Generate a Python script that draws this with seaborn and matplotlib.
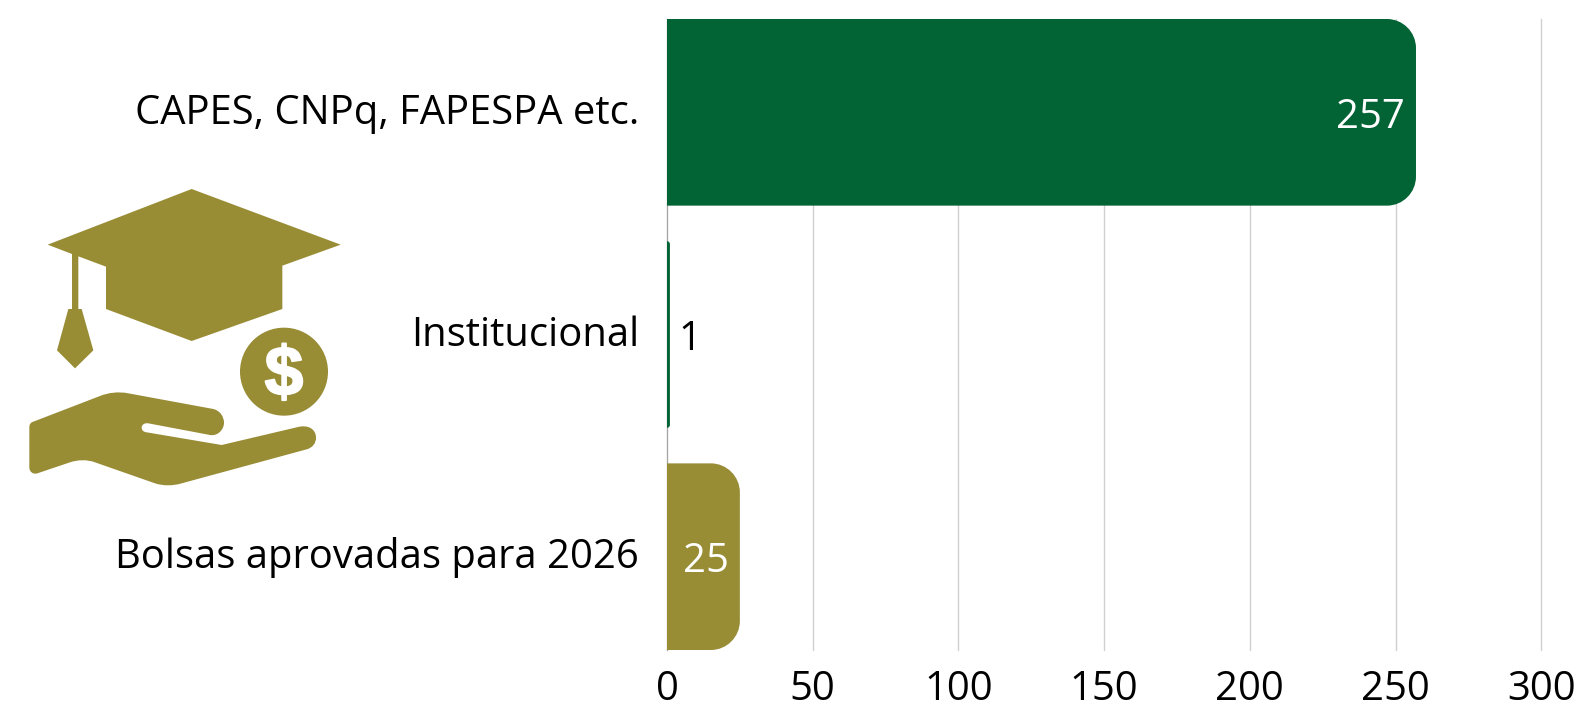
import matplotlib
matplotlib.use("Agg")
import matplotlib.pyplot as plt
import matplotlib.patheffects as pe
import pandas as pd
import seaborn as sns
from matplotlib.patches import Circle, PathPatch, Polygon
from matplotlib.path import Path
from matplotlib.transforms import IdentityTransform, ScaledTranslation

categories = ["CAPES, CNPq, FAPESPA etc.", "Institucional", "Bolsas aprovadas para 2026"]
values = [257, 1, 25]
bar_colors = ["#026334", "#026334", "#988C35"]
label_colors = ["white", "#000000", "white"]
xticks = [0, 50, 100, 150, 200, 250, 300]

GOLD = "#988C35"
W, H = 1579, 707
FS = 28.8

sns.set_theme(style="white")
plt.rcParams["font.family"] = ["Open Sans", "DejaVu Sans"]

df = pd.DataFrame({"categoria": categories, "bolsas": values})

fig = plt.figure(figsize=(W / 100, H / 100), dpi=100)
ax = fig.add_axes([667 / W, 1 - 650 / H, (1541.3 - 667) / W, (650 - 19) / H])

sns.barplot(data=df, x="bolsas", y="categoria", hue="categoria", palette=bar_colors,
            width=0.84, legend=False, saturation=1, ax=ax)

ax.set_xlim(0, 300)
ax.set_ylim(2.42, -0.42)
ax.set_xticks(xticks)
ax.set_xlabel("")
ax.set_ylabel("")
ax.grid(axis="x", color="#d0d0d0", lw=1.0)
ax.set_axisbelow(True)
for line in ax.get_xgridlines():
    line.set_clip_on(False)
sns.despine(ax=ax, top=True, right=True, bottom=True, left=False)
ax.spines["left"].set_color("#a6a6a6")
ax.spines["left"].set_linewidth(0.8)
ax.tick_params(axis="x", length=0, pad=14, labelsize=FS, labelcolor="#000000")
ax.tick_params(axis="y", length=0, pad=20, labelsize=FS, labelcolor="#000000")

# category labels sit a little above the bar centres
lift = ScaledTranslation(0, 4 / 100, fig.dpi_scale_trans)
for lab in ax.get_yticklabels():
    lab.set_transform(lab.get_transform() + lift)


def rounded_bar(x0, x1, y0, y1, r):
    # only the right side of the bar gets rounded
    r = min(r, x1 - x0)
    k = 0.55 * r
    verts = [(x0, y0), (x1 - r, y0), (x1 - r + k, y0), (x1, y0 + r - k), (x1, y0 + r),
             (x1, y1 - r), (x1, y1 - r + k), (x1 - r + k, y1), (x1 - r, y1),
             (x0, y1), (x0, y0)]
    codes = [Path.MOVETO, Path.LINETO, Path.CURVE4, Path.CURVE4, Path.CURVE4,
             Path.LINETO, Path.CURVE4, Path.CURVE4, Path.CURVE4,
             Path.LINETO, Path.CLOSEPOLY]
    return Path(verts, codes)


# swap seaborn's square bars for rounded ones, in pixels so the radius stays round
fig.canvas.draw()
bars = [p for p in ax.patches if p.get_width() > 0]
bars = sorted(bars, key=lambda p: p.get_y())
for bar, color in zip(bars, bar_colors):
    (x0, y0), (x1, y1) = ax.transData.transform(
        [(bar.get_x(), bar.get_y()), (bar.get_x() + bar.get_width(), bar.get_y() + bar.get_height())])
    y0, y1 = min(y0, y1), max(y0, y1)
    bar.set_visible(False)
    ax.add_artist(PathPatch(rounded_bar(x0, x1, y0, y1, 29), facecolor=color, edgecolor="none",
                            transform=IdentityTransform(), zorder=3, clip_on=False))

# value labels
for i, (val, col) in enumerate(zip(values, label_colors)):
    if val > 20:
        ax.annotate(str(val), (val, i), xytext=(-8, 0), textcoords="offset points", ha="right",
                    va="center_baseline", fontsize=FS, color=col, zorder=5)
    else:
        ax.annotate(str(val), (val, i), xytext=(6, 0), textcoords="offset points", ha="left",
                    va="center_baseline", fontsize=FS, color=col, zorder=5)

# icon, drawn in pixels of the zoomed crop (3x, origin at 0,170)
icon = fig.add_axes([0, 0, 1, 1], zorder=6)
icon.set_xlim(0, W * 3)
icon.set_ylim((H - 170) * 3, -170 * 3)
icon.axis("off")
icon.patch.set_alpha(0)

cap = [(143, 224), (575, 57), (1022, 224), (847, 287), (847, 417), (575, 513), (318, 417),
       (318, 290), (235, 259), (235, 417), (245, 417), (280, 541), (225, 595), (171, 541),
       (205, 417), (216, 417), (216, 252)]
icon.add_patch(Polygon(cap, closed=True, facecolor=GOLD, edgecolor="none"))
icon.add_patch(Circle((852, 605), 132, facecolor=GOLD, edgecolor="none"))
dollar = icon.text(852, 621, "$", color="white", family="Liberation Sans", weight="bold", fontsize=50,
                   ha="center", va="center")
dollar.set_path_effects([pe.withStroke(linewidth=1.4, foreground="white")])

L, C = Path.LINETO, Path.CURVE4
hand = [((88, 772), Path.MOVETO),
        ((88, 762), C), ((93, 757), C), ((100, 755), C),
        ((300, 678), L),
        ((325, 668), C), ((355, 664), C), ((385, 670), C),
        ((640, 717), L),
        ((660, 722), C), ((672, 740), C), ((672, 758), C),
        ((672, 780), C), ((652, 799), C), ((630, 795), C),
        ((445, 760), L),
        ((432, 758), C), ((425, 765), C), ((425, 773), C),
        ((425, 781), C), ((431, 786), C), ((440, 787), C),
        ((665, 825), L),
        ((890, 772), L),
        ((925, 762), C), ((948, 778), C), ((948, 803), C),
        ((948, 820), C), ((938, 833), C), ((920, 838), C),
        ((545, 940), L),
        ((518, 948), C), ((490, 948), C), ((465, 940), C),
        ((285, 877), L),
        ((260, 868), C), ((235, 869), C), ((210, 877), C),
        ((112, 910), L),
        ((98, 914), C), ((88, 905), C), ((88, 892), C),
        ((88, 772), Path.CLOSEPOLY)]
icon.add_patch(PathPatch(Path([p for p, _ in hand], [c for _, c in hand]), facecolor=GOLD, edgecolor="none"))

fig.savefig("out.png", dpi=100)
